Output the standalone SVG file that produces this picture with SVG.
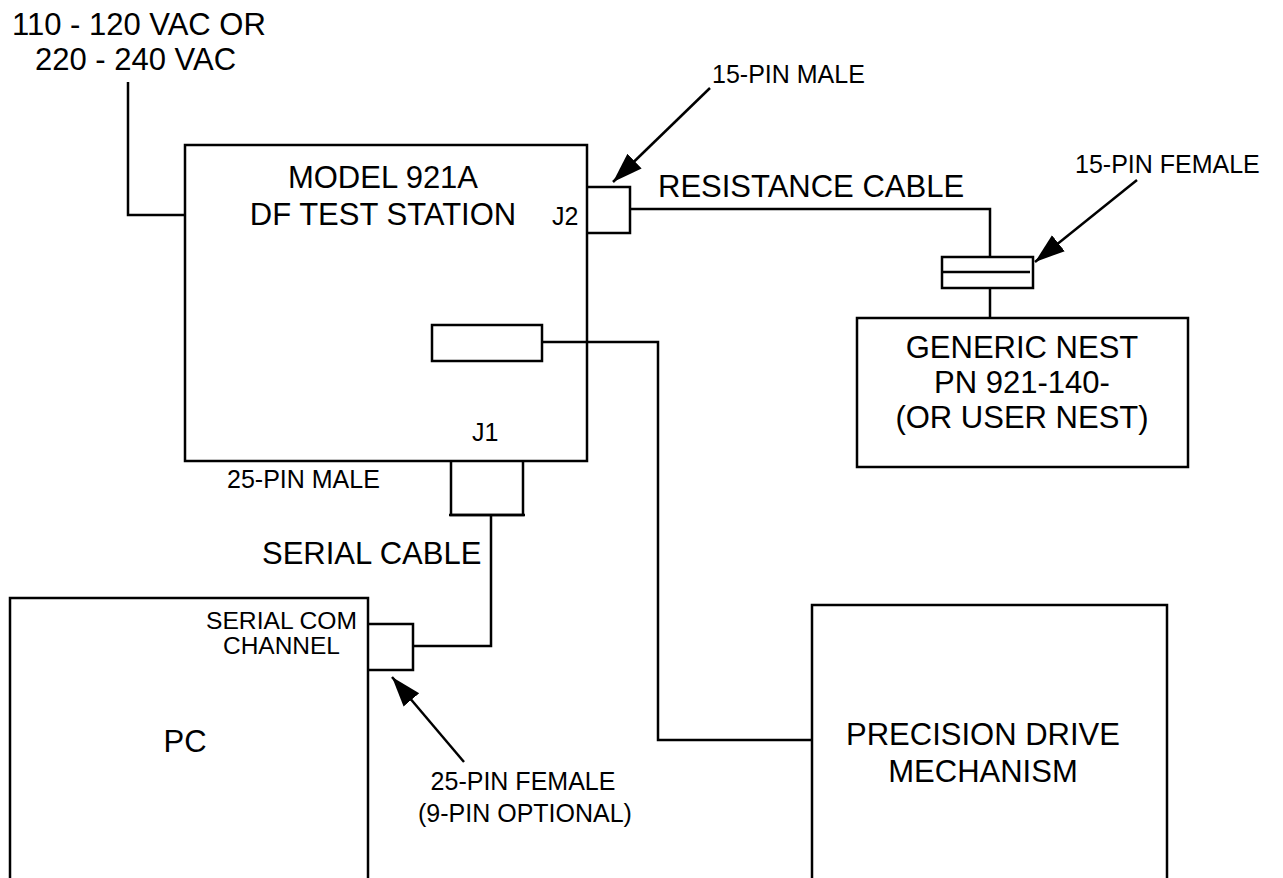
<svg xmlns="http://www.w3.org/2000/svg" width="1283" height="878" viewBox="0 0 1283 878">
<defs>
<style>
.s{fill:none;stroke:#000;stroke-width:2.5}
.t{font-family:"Liberation Sans",Arial,sans-serif;fill:#000}
.l{font-size:31px}
.m{font-size:25px}
.c{font-size:23px}
</style>
<marker id="ah" viewBox="0 0 10 10" refX="10" refY="5" markerWidth="12" markerHeight="12" markerUnits="strokeWidth" orient="auto">
<path d="M0,1.6 L10,5 L0,8.4 z" fill="#000"/>
</marker>
</defs>
<rect width="1283" height="878" fill="#fff"/>
<g id="connectors">
<polyline class="s" points="128,82 128,215 185,215"/>
<polyline class="s" points="630,209 990,209 990,257"/>
<line class="s" x1="990" y1="288" x2="990" y2="318"/>
<polyline class="s" points="542,342 658,342 658,740 812,740"/>
<polyline class="s" points="413,646 491,646 491,515"/>
<line class="s" x1="710" y1="88" x2="613" y2="182" marker-end="url(#ah)"/>
<line class="s" x1="1137" y1="180" x2="1035" y2="262" marker-end="url(#ah)"/>
<line class="s" x1="464" y1="762" x2="392" y2="677" marker-end="url(#ah)"/>
</g>
<g id="power">
<text class="t l" x="12" y="35">110 - 120 VAC OR</text>
<text class="t l" x="35" y="70">220 - 240 VAC</text>
</g>
<g id="station">
<rect class="s" x="185" y="145" width="402" height="316"/>
<text class="t l" x="383" y="188" text-anchor="middle">MODEL 921A</text>
<text class="t l" x="383" y="225" text-anchor="middle">DF TEST STATION</text>
<text class="t m" x="552" y="225">J2</text>
<text class="t m" x="472" y="441">J1</text>
<rect class="s" x="432" y="325" width="110" height="36"/>
</g>
<g id="j2">
<polyline class="s" points="587,187 630,187 630,233 587,233"/>
<text class="t m" x="712" y="83">15-PIN MALE</text>
</g>
<g id="cable-label">
<text class="t l" x="658" y="197">RESISTANCE CABLE</text>
</g>
<g id="female15">
<rect class="s" x="942" y="257" width="91" height="31"/>
<line class="s" x1="942" y1="272" x2="1030" y2="272"/>
<text class="t m" x="1075" y="173">15-PIN FEMALE</text>
</g>
<g id="nest">
<rect class="s" x="857" y="318" width="331" height="149"/>
<text class="t l" x="1022" y="358" text-anchor="middle">GENERIC NEST</text>
<text class="t l" x="1022" y="393" text-anchor="middle">PN 921-140-</text>
<text class="t l" x="1022" y="428" text-anchor="middle">(OR USER NEST)</text>
</g>
<g id="j1">
<polyline class="s" points="451,461 451,515 523,515 523,461"/>
<line class="s" x1="449" y1="515" x2="525" y2="515"/>
<text class="t m" x="227" y="488">25-PIN MALE</text>
<text class="t l" x="262" y="564">SERIAL CABLE</text>
</g>
<g id="pc">
<rect class="s" x="10" y="598" width="358" height="290"/>
<polyline class="s" points="368,624 413,624 413,670 368,670"/>
<text class="t c" x="206" y="629" textLength="151" lengthAdjust="spacingAndGlyphs">SERIAL COM</text>
<text class="t c" x="223" y="654" textLength="117" lengthAdjust="spacingAndGlyphs">CHANNEL</text>
<text class="t l" x="185" y="752" text-anchor="middle">PC</text>
<text class="t m" x="523" y="790" text-anchor="middle">25-PIN FEMALE</text>
<text class="t m" x="525" y="822" text-anchor="middle">(9-PIN OPTIONAL)</text>
</g>
<g id="drive">
<rect class="s" x="812" y="605" width="355" height="283"/>
<text class="t l" x="983" y="745" text-anchor="middle">PRECISION DRIVE</text>
<text class="t l" x="983" y="782" text-anchor="middle">MECHANISM</text>
</g>
</svg>
